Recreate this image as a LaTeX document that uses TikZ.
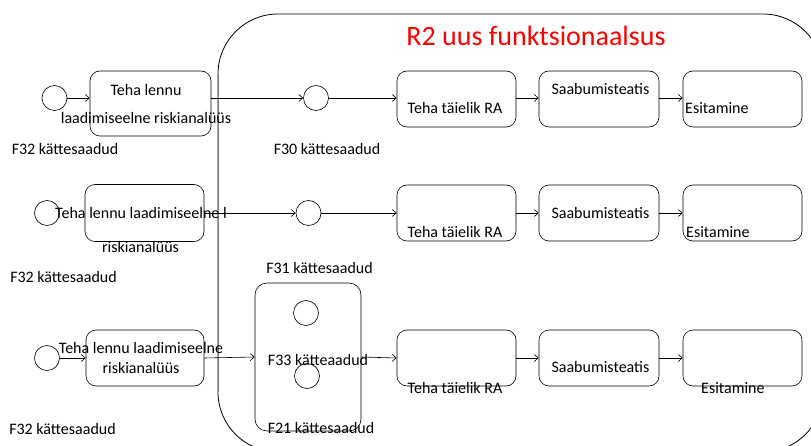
\documentclass[tikz,border=0pt]{standalone}
\usepackage{fontspec}
\setmainfont{Carlito}
\usetikzlibrary{arrows.meta}
\begin{document}
\begin{tikzpicture}[x=1pt,y=-1pt,
  box/.style={draw, rounded corners=10pt, inner sep=0pt, line width=0.6pt},
  ev/.style={draw, circle, minimum size=25pt, inner sep=0pt, line width=0.6pt},
  lbl/.style={font=\fontsize{16}{18}\selectfont, inner sep=0pt},
  arr/.style={-{Straight Barb[length=4pt,width=7pt]}, line width=0.6pt}]
\clip (0,0) rectangle (811,446);
\useasboundingbox (0,0) rectangle (811,446);
% big region
\draw[line width=0.8pt, rounded corners=60pt] (218,14) rectangle (823,452);
\draw[line width=0.9pt, gray] (218,74) -- (218,392);
\node[font=\fontsize{28}{32}\selectfont, text=red, inner sep=0pt] (title) at (536,36) {R2 uus funktsionaalsus};

% ---------- row 1 ----------
\node[ev] (c1) at (54.5,98) {};
\node[box, minimum width=121pt, minimum height=65pt] (b1) at (150.5,103.5) {};
\node[ev] (c2) at (316,98) {};
\node[box, minimum width=119pt, minimum height=56pt] (ra1) at (456.5,99) {};
\node[box, minimum width=120pt, minimum height=56pt] (sa1) at (599,99) {};
\node[box, minimum width=119pt, minimum height=56pt] (es1) at (742.5,99) {};
\draw[arr] (c1.east) -- (c1.east -| b1.west);
\draw[arr] (b1.east |- c2.west) -- (c2.west);
\draw[arr] (c2.east) -- (c2.east -| ra1.west);
\draw[arr] (ra1.east |- c2.west) -- (sa1.west |- c2.west);
\draw[arr] (sa1.east |- c2.west) -- (es1.west |- c2.west);
\node[lbl] (t1a) at (146,90) {Teha lennu};
\node[lbl] (t1b) at (146,118) {laadimiseelne riskianalüüs};
\node[lbl] (l1a) at (65,149) {F32 kättesaadud};
\node[lbl] (l1b) at (327,149) {F30 kättesaadud};
\node[lbl] (r1) at (455,108) {Teha täielik RA};
\node[lbl] (s1) at (600.5,89) {Saabumisteatis};
\node[lbl, anchor=west] (e1) at (685,108) {Esitamine};

% ---------- row 2 ----------
\node[ev] (c3) at (47,213) {};
\node[box, minimum width=119pt, minimum height=57pt] (b2) at (144.5,213) {};
\node[ev] (c4) at (308.5,213) {};
\node[box, minimum width=119pt, minimum height=56pt] (ra2) at (456.5,213) {};
\node[box, minimum width=120pt, minimum height=56pt] (sa2) at (599,213) {};
\node[box, minimum width=119pt, minimum height=56pt] (es2) at (742.5,213) {};
\draw[arr] (b2.east) -- (c4.west);
\draw[arr] (c4.east) -- (ra2.west);
\draw[arr] (ra2.east) -- (sa2.west);
\draw[arr] (sa2.east) -- (es2.west);
\node[lbl] (t2a) at (141,213) {Teha lennu laadimiseelne l};
\node[lbl] (t2b) at (140.5,247) {riskianalüüs};
\node[lbl] (l2a) at (63.5,277) {F32 kättesaadud};
\node[lbl] (l2b) at (319.5,268) {F31 kättesaadud};
\node[lbl] (r2) at (455,232) {Teha täielik RA};
\node[lbl] (s2) at (600.5,213) {Saabumisteatis};
\node[lbl, anchor=west] (e2) at (686,232) {Esitamine};

% ---------- row 3 ----------
\node[ev] (c5) at (47,358) {};
\node[box, minimum width=118pt, minimum height=56pt] (b3) at (145,358) {};
\node[box, rounded corners=12pt, minimum width=106pt, minimum height=148pt] (tall) at (308,357) {};
\node[ev] (c6) at (306,313) {};
\node[ev] (c7) at (307,376) {};
\node[box, minimum width=119pt, minimum height=56pt] (ra3) at (456.5,358) {};
\node[box, minimum width=120pt, minimum height=56pt] (sa3) at (599,358) {};
\node[box, minimum width=119pt, minimum height=56pt] (es3) at (742.5,358) {};
\draw[arr] (c5.east) -- (b3.west);
\draw[arr] (b3.east) -- (tall.west);
\draw[arr] (tall.east) -- (ra3.west);
\draw[arr] (ra3.east) -- (sa3.west);
\draw[arr] (sa3.east) -- (es3.west);
\node[lbl] (t3a) at (141,348) {Teha lennu laadimiseelne};
\node[lbl] (t3b) at (141,368) {riskianalüüs};
\node[lbl] (l3a) at (62.5,429) {F32 kättesaadud};
\node[lbl] (t33) at (318,360) {F33 kätteaadud};
\node[lbl] (t21) at (321,428) {F21 kättesaadud};
\node[lbl] (r3) at (455,388) {Teha täielik RA};
\node[lbl] (s3) at (600.5,367) {Saabumisteatis};
\node[lbl, anchor=west] (e3) at (701,388) {Esitamine};
\end{tikzpicture}
\end{document}
